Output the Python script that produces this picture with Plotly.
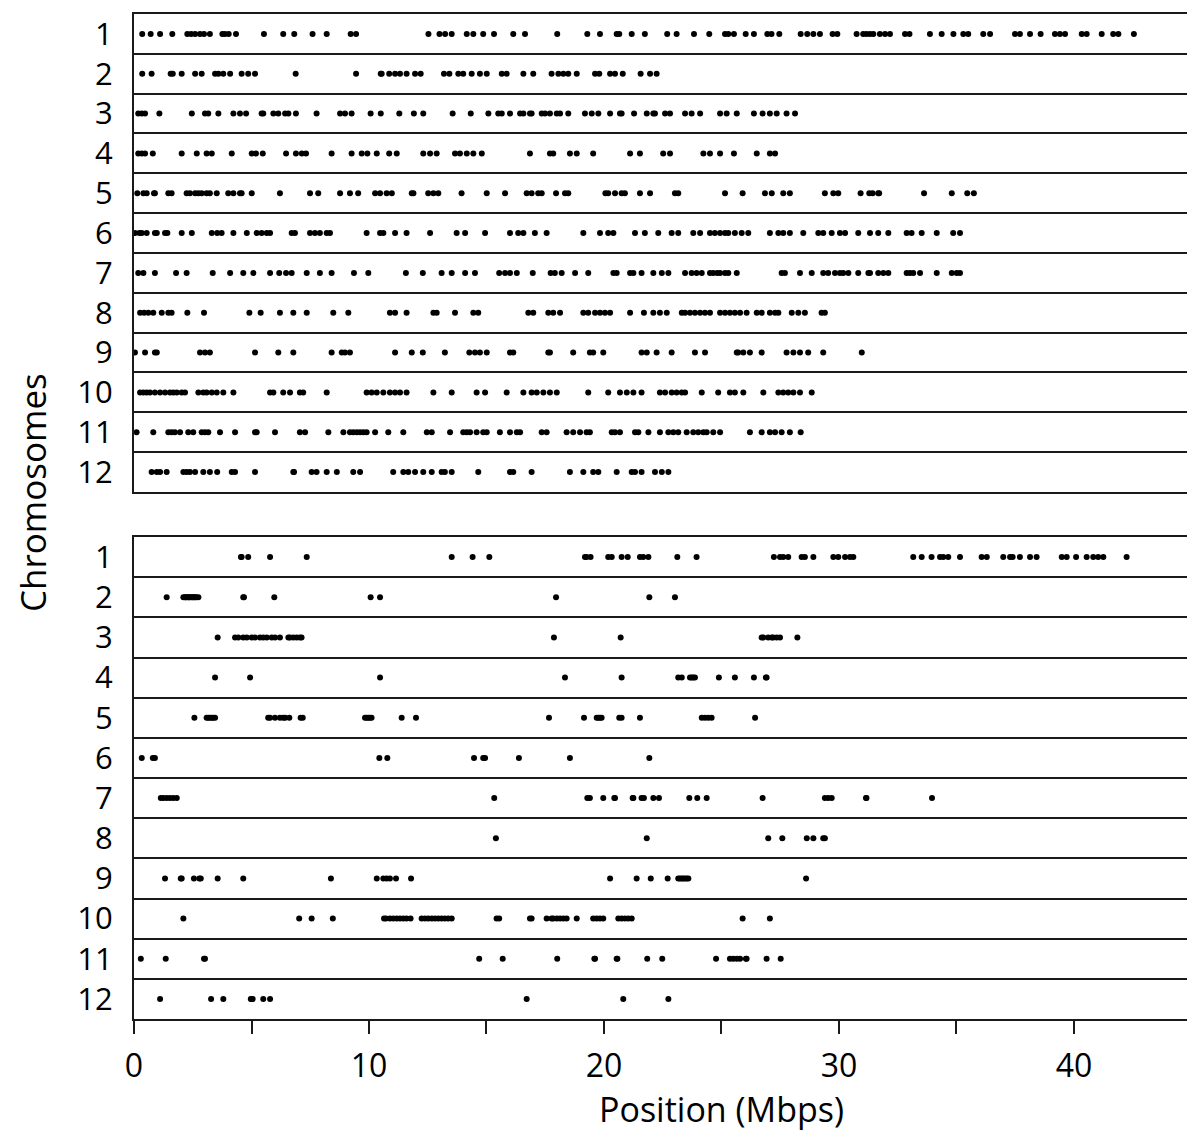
import plotly.graph_objects as go

# ---------------- data (positions in Mbps) ----------------
chromosomes = ["1", "2", "3", "4", "5", "6", "7", "8", "9", "10", "11", "12"]
x_tick_vals = [0, 10, 20, 30, 40]
x_minor_tick_vals = [5, 15, 25, 35]

# upper panel
top_chr01 = [0.35, 0.71, 1.11, 1.63, 2.27, 2.43, 2.6, 2.81, 2.98, 3.23, 3.76, 3.87, 4.03, 4.34, 5.53, 6.35, 6.82, 7.6, 8.2, 9.22, 9.45, 12.53, 13.0, 13.24, 13.52, 14.16, 14.44, 14.86, 15.32, 16.14, 16.64, 18.01, 19.29, 19.83, 20.54, 20.65, 21.18, 21.74, 22.69, 23.09, 23.83, 24.48, 25.15, 25.29, 25.53, 26.03, 26.38, 26.95, 27.13, 27.46, 28.37, 28.65, 28.91, 29.19, 29.73, 29.93, 30.75, 31.03, 31.17, 31.32, 31.46, 31.74, 31.96, 32.17, 32.81, 33.0, 33.87, 34.37, 34.87, 35.29, 35.5, 36.14, 36.43, 37.49, 37.7, 38.13, 38.58, 39.19, 39.4, 39.62, 40.33, 40.54, 41.18, 41.67, 41.89, 42.55]
top_chr02 = [0.35, 0.75, 1.56, 1.65, 2.03, 2.6, 2.88, 3.45, 3.59, 3.8, 4.09, 4.58, 4.86, 5.15, 6.88, 9.45, 10.5, 10.54, 10.86, 11.11, 11.32, 11.6, 11.96, 12.2, 13.19, 13.42, 13.8, 14.01, 14.37, 14.72, 15.01, 15.65, 15.86, 16.57, 16.99, 17.77, 18.06, 18.27, 18.48, 18.84, 19.62, 19.8, 20.26, 20.47, 20.8, 21.56, 21.96, 22.24]
top_chr03 = [0.18, 0.33, 0.47, 1.08, 2.46, 3.02, 3.16, 3.59, 4.23, 4.51, 4.77, 5.43, 5.5, 5.93, 6.14, 6.43, 6.57, 6.89, 7.77, 8.77, 8.98, 9.26, 10.07, 10.5, 11.29, 11.91, 12.31, 13.56, 14.33, 15.08, 15.5, 15.65, 16.0, 16.43, 16.57, 16.85, 16.92, 17.35, 17.49, 17.7, 17.99, 18.13, 18.48, 19.19, 19.48, 19.76, 20.26, 20.68, 20.75, 21.28, 21.82, 22.1, 22.17, 22.6, 22.81, 23.45, 23.73, 24.09, 24.94, 25.22, 25.65, 26.38, 26.75, 27.06, 27.35, 27.77, 28.13]
top_chr04 = [0.18, 0.33, 0.47, 0.8, 2.03, 2.67, 3.09, 3.31, 4.16, 5.01, 5.19, 5.48, 6.47, 6.89, 7.14, 7.32, 8.41, 9.26, 9.69, 9.93, 10.33, 10.86, 11.18, 12.31, 12.6, 12.88, 13.66, 13.87, 14.16, 14.44, 14.8, 16.85, 17.7, 17.84, 18.55, 18.84, 19.54, 21.11, 21.53, 22.52, 22.81, 24.23, 24.51, 24.94, 25.53, 26.5, 27.06, 27.28]
top_chr05 = [0.14, 0.4, 0.54, 0.85, 0.89, 1.46, 1.6, 2.24, 2.38, 2.6, 2.74, 2.88, 3.09, 3.23, 3.52, 4.01, 4.23, 4.51, 4.58, 5.01, 6.21, 7.49, 7.84, 8.77, 9.19, 9.54, 10.26, 10.47, 10.75, 10.97, 11.82, 11.89, 12.52, 12.74, 12.95, 13.94, 15.01, 15.79, 16.71, 16.92, 17.2, 17.35, 17.96, 18.34, 18.48, 20.06, 20.18, 20.47, 20.75, 20.89, 21.53, 21.96, 23.02, 23.16, 25.15, 25.9, 26.85, 27.14, 27.63, 27.91, 29.4, 29.76, 29.97, 30.92, 31.29, 31.43, 31.67, 31.71, 33.62, 34.8, 35.46, 35.74]
top_chr06 = [0.04, 0.23, 0.33, 0.54, 0.89, 0.97, 1.32, 1.42, 2.03, 2.46, 3.31, 3.54, 3.73, 4.23, 4.8, 5.22, 5.43, 5.65, 5.79, 6.71, 6.85, 7.49, 7.7, 7.91, 8.2, 8.34, 9.9, 10.47, 10.61, 11.11, 11.6, 12.6, 13.73, 14.09, 14.94, 16.0, 16.35, 16.57, 17.06, 17.56, 19.12, 19.83, 20.18, 20.4, 21.32, 21.74, 22.31, 22.88, 23.16, 23.8, 24.09, 24.51, 24.72, 24.94, 25.15, 25.29, 25.57, 25.86, 26.14, 27.06, 27.42, 27.63, 27.91, 28.48, 29.12, 29.33, 29.69, 30.04, 30.26, 30.82, 31.32, 31.67, 32.1, 32.88, 33.09, 33.52, 34.16, 34.86, 35.15]
top_chr07 = [0.18, 0.4, 0.89, 1.79, 2.24, 3.35, 4.09, 4.65, 5.08, 5.79, 6.18, 6.47, 6.71, 7.35, 7.91, 8.41, 9.36, 9.97, 11.57, 12.29, 13.09, 13.52, 14.09, 14.51, 15.54, 15.79, 16.0, 16.29, 16.97, 17.73, 17.91, 18.2, 18.77, 19.33, 20.4, 20.54, 21.11, 21.25, 21.6, 22.1, 22.46, 22.74, 23.45, 23.73, 23.94, 24.16, 24.51, 24.65, 24.82, 24.94, 25.15, 25.29, 25.65, 27.56, 27.7, 28.34, 28.84, 29.33, 29.54, 29.83, 30.04, 30.18, 30.4, 30.82, 31.25, 31.32, 31.67, 31.89, 32.1, 32.88, 33.02, 33.16, 33.45, 34.16, 34.8, 35.01, 35.15]
top_chr08 = [0.26, 0.43, 0.61, 0.82, 1.18, 1.46, 1.6, 2.27, 2.98, 4.91, 5.39, 6.21, 6.78, 7.35, 8.48, 9.12, 10.89, 11.11, 11.6, 12.74, 12.88, 13.66, 14.44, 14.65, 16.78, 16.99, 17.63, 17.84, 18.13, 19.12, 19.33, 19.62, 19.83, 20.04, 20.26, 21.11, 21.7, 22.1, 22.38, 22.67, 23.31, 23.45, 23.66, 23.87, 24.09, 24.3, 24.51, 24.94, 25.15, 25.36, 25.57, 25.79, 26.07, 26.5, 26.71, 27.06, 27.28, 27.42, 27.99, 28.27, 28.55, 29.26, 29.4]
top_chr09 = [0.04, 0.47, 0.89, 0.97, 2.81, 3.02, 3.23, 5.15, 6.14, 6.78, 8.41, 8.84, 8.98, 9.19, 11.11, 11.82, 12.29, 13.23, 14.27, 14.51, 14.72, 15.01, 16.0, 16.14, 17.63, 17.7, 18.69, 19.4, 19.54, 19.97, 21.6, 21.82, 22.24, 22.88, 23.87, 24.3, 25.65, 25.71, 25.93, 26.21, 26.71, 27.77, 28.06, 28.34, 28.69, 29.33, 30.97]
top_chr10 = [0.26, 0.4, 0.54, 0.68, 0.89, 1.11, 1.32, 1.53, 1.67, 1.82, 2.03, 2.17, 2.74, 2.95, 3.09, 3.31, 3.52, 3.8, 4.23, 5.79, 5.93, 6.35, 6.64, 7.06, 7.2, 8.2, 9.9, 10.11, 10.33, 10.61, 10.89, 11.11, 11.32, 11.6, 12.74, 13.52, 14.58, 14.94, 15.86, 16.57, 16.92, 17.14, 17.42, 17.7, 17.99, 19.33, 20.18, 20.68, 20.97, 21.25, 21.6, 22.38, 22.6, 22.88, 23.09, 23.31, 23.45, 24.16, 24.86, 25.36, 25.57, 25.93, 26.78, 27.42, 27.63, 27.84, 28.06, 28.34, 28.84]
top_chr11 = [0.11, 0.82, 1.46, 1.6, 1.74, 1.96, 2.31, 2.52, 2.88, 3.02, 3.16, 3.66, 4.3, 5.15, 5.22, 6.0, 7.06, 7.28, 8.27, 8.91, 9.19, 9.33, 9.48, 9.62, 9.76, 9.9, 10.26, 10.82, 11.46, 12.46, 12.67, 13.45, 14.01, 14.16, 14.3, 14.58, 14.86, 15.01, 15.57, 16.0, 16.29, 16.43, 17.35, 17.56, 18.41, 18.69, 18.98, 19.26, 19.4, 20.33, 20.47, 20.68, 21.32, 21.46, 21.89, 22.38, 22.74, 22.95, 23.16, 23.52, 23.8, 24.01, 24.23, 24.37, 24.65, 24.94, 26.21, 26.71, 27.06, 27.28, 27.56, 27.91, 28.37]
top_chr12 = [0.75, 0.97, 1.11, 1.39, 2.1, 2.24, 2.38, 2.6, 2.95, 3.23, 3.54, 4.16, 4.3, 5.15, 6.78, 6.81, 7.56, 7.77, 8.2, 8.63, 9.33, 9.62, 11.03, 11.46, 11.67, 11.96, 12.31, 12.67, 13.09, 13.23, 13.52, 14.65, 16.0, 16.14, 16.92, 18.55, 19.12, 19.54, 19.76, 20.54, 21.18, 21.32, 21.6, 22.17, 22.46, 22.74]

# lower panel
bottom_chr01 = [4.55, 4.58, 4.86, 5.79, 7.35, 13.52, 14.41, 15.12, 19.19, 19.26, 19.43, 20.18, 20.33, 20.75, 21.01, 21.53, 21.67, 21.89, 23.12, 23.94, 27.23, 27.49, 27.63, 27.84, 28.41, 28.55, 28.91, 29.76, 29.97, 30.26, 30.47, 30.61, 33.16, 33.52, 33.94, 34.3, 34.44, 34.65, 35.15, 36.07, 36.29, 36.99, 37.28, 37.39, 37.7, 38.13, 38.41, 39.48, 39.69, 40.09, 40.54, 40.82, 41.03, 41.25, 42.24]
bottom_chr02 = [1.39, 2.1, 2.17, 2.2, 2.25, 2.31, 2.35, 2.38, 2.46, 2.5, 2.55, 2.6, 2.65, 2.74, 4.65, 4.68, 5.97, 10.07, 10.47, 17.96, 21.93, 23.02]
bottom_chr03 = [3.56, 4.3, 4.44, 4.65, 4.8, 5.01, 5.15, 5.36, 5.5, 5.65, 5.86, 6.0, 6.21, 6.57, 6.64, 6.78, 6.92, 7.06, 7.13, 17.87, 20.71, 26.71, 26.78, 26.99, 27.14, 27.2, 27.35, 27.49, 28.23]
bottom_chr04 = [3.45, 4.94, 10.47, 18.34, 20.75, 23.16, 23.31, 23.66, 23.73, 23.8, 23.87, 24.89, 25.57, 26.38, 26.89, 26.92]
bottom_chr05 = [2.57, 3.09, 3.16, 3.23, 3.31, 3.37, 3.45, 5.71, 5.79, 6.0, 6.21, 6.35, 6.43, 6.61, 7.09, 7.18, 9.83, 9.9, 9.97, 10.04, 10.11, 11.39, 12.0, 17.66, 19.15, 19.69, 19.76, 19.83, 19.9, 20.65, 20.75, 21.53, 24.16, 24.3, 24.44, 24.58, 26.43]
bottom_chr06 = [0.33, 0.8, 0.89, 10.44, 10.78, 14.47, 14.86, 14.94, 16.38, 18.55, 21.93]
bottom_chr07 = [1.14, 1.25, 1.39, 1.53, 1.67, 1.82, 15.33, 19.29, 19.4, 19.97, 20.44, 20.47, 21.22, 21.25, 21.6, 21.7, 22.1, 22.34, 23.63, 23.97, 24.37, 26.75, 29.4, 29.54, 29.69, 31.15, 31.17, 33.96]
bottom_chr08 = [15.4, 21.82, 26.99, 27.59, 28.63, 28.91, 29.33, 29.4]
bottom_chr09 = [1.32, 1.99, 2.03, 2.55, 2.78, 2.84, 3.56, 4.65, 8.38, 10.33, 10.61, 10.75, 10.89, 11.15, 11.79, 20.26, 21.39, 21.99, 22.71, 23.16, 23.23, 23.31, 23.37, 23.45, 23.52, 23.59, 28.6]
bottom_chr10 = [2.1, 7.03, 7.56, 8.46, 10.64, 10.72, 10.89, 11.03, 11.18, 11.32, 11.46, 11.6, 11.77, 12.24, 12.38, 12.52, 12.67, 12.81, 12.95, 13.09, 13.23, 13.37, 13.52, 15.43, 15.54, 16.85, 16.92, 17.56, 17.77, 17.84, 17.99, 18.13, 18.27, 18.41, 18.84, 19.54, 19.69, 19.83, 19.97, 20.61, 20.75, 20.89, 21.03, 21.18, 25.9, 27.06]
bottom_chr11 = [0.29, 1.35, 2.98, 3.02, 14.69, 15.69, 18.01, 19.59, 19.62, 20.54, 20.57, 21.84, 22.48, 24.77, 25.36, 25.5, 25.65, 25.79, 26.04, 26.07, 26.92, 27.52]
bottom_chr12 = [1.11, 3.28, 3.8, 4.97, 5.01, 5.05, 5.5, 5.79, 16.71, 20.82, 22.74]

top_panel = [top_chr01, top_chr02, top_chr03, top_chr04, top_chr05, top_chr06,
             top_chr07, top_chr08, top_chr09, top_chr10, top_chr11, top_chr12]
bottom_panel = [bottom_chr01, bottom_chr02, bottom_chr03, bottom_chr04, bottom_chr05, bottom_chr06,
                bottom_chr07, bottom_chr08, bottom_chr09, bottom_chr10, bottom_chr11, bottom_chr12]

# ---------------- figure ----------------
FONT = "Open Sans"
LINE = "#1a1a1a"
X_MAX = 44.81

fig = go.Figure()
for panel, xa, ya in ((top_panel, "x", "y"), (bottom_panel, "x2", "y2")):
    xs, ys = [], []
    for idx, vals in enumerate(panel):
        xs.extend(vals)
        ys.extend([idx + 1] * len(vals))
    fig.add_trace(go.Scatter(
        x=xs, y=ys, mode="markers", xaxis=xa, yaxis=ya,
        marker=dict(color="black", size=6, line=dict(width=0)),
        showlegend=False, hoverinfo="skip"))

row_centres = list(range(1, len(chromosomes) + 1))
row_edges = [r + 0.5 for r in row_centres[:-1]]

yaxis_common = dict(
    range=[len(chromosomes) + 0.5, 0.5], tickvals=row_centres, ticktext=chromosomes,
    showgrid=False, zeroline=False, showline=True, linecolor=LINE, linewidth=2,
    ticks="", ticklabelstandoff=13,
    tickfont=dict(family=FONT, size=31, color="black"),
    minor=dict(tickvals=row_edges, showgrid=True, gridcolor=LINE, gridwidth=2, ticks=""),
)

fig.update_layout(
    width=1187, height=1131,
    margin=dict(l=134, r=0, t=14, b=112),
    paper_bgcolor="white", plot_bgcolor="white",
    xaxis=dict(domain=[0, 1], anchor="y", range=[0, X_MAX], showticklabels=False,
               showgrid=False, zeroline=False, showline=True, mirror=True,
               linecolor=LINE, linewidth=2, ticks=""),
    yaxis=dict(domain=[0.5244, 1], anchor="x", **yaxis_common),
    xaxis2=dict(domain=[0, 1], anchor="y2", range=[0, X_MAX], tickvals=x_tick_vals,
                showgrid=False, zeroline=False, showline=True, mirror=True,
                linecolor=LINE, linewidth=2, ticks="outside", ticklen=13, tickwidth=1.5,
                tickcolor=LINE, ticklabelstandoff=5,
                tickfont=dict(family=FONT, size=32, color="black"),
                minor=dict(tickvals=x_minor_tick_vals, ticks="outside", ticklen=13,
                           tickwidth=1.5, tickcolor=LINE, showgrid=False)),
    yaxis2=dict(domain=[0, 0.4796], anchor="x2", **yaxis_common),
    annotations=[
        dict(text="Chromosomes", textangle=-90, xref="paper", yref="paper",
             x=-0.0959, y=0.5234, xanchor="center", yanchor="middle", showarrow=False,
             font=dict(family=FONT, size=35, color="black")),
        dict(text="Position (Mbps)", xref="x2", yref="paper",
             x=25, y=-0.0895, xanchor="center", yanchor="middle", showarrow=False,
             font=dict(family=FONT, size=34, color="black")),
    ],
)

# remove the default page margin so the figure fills the window exactly
fig.write_html("out.html", config={"displayModeBar": False},
               post_script="document.body.style.margin='0px';")
